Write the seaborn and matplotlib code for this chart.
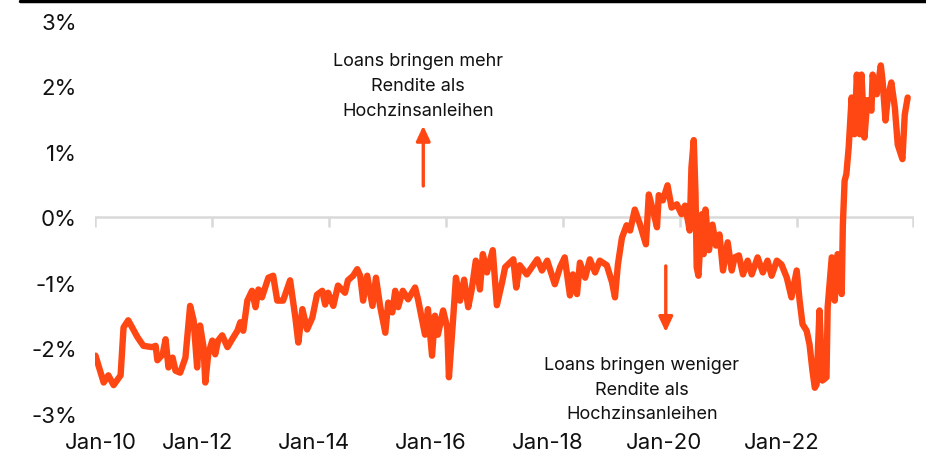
import numpy as np
import pandas as pd
import matplotlib
matplotlib.use("Agg")
import matplotlib.pyplot as plt
from matplotlib.lines import Line2D
import seaborn as sns

# Spread between leveraged-loan yield and high-yield bond yield, in percentage points
years = [
    2010.00, 2010.14, 2010.22, 2010.31, 2010.43, 2010.48, 2010.56, 2010.72, 2010.82, 2010.97,
    2011.03, 2011.06, 2011.15, 2011.20, 2011.25, 2011.32, 2011.37, 2011.45, 2011.54, 2011.62,
    2011.68, 2011.74, 2011.79, 2011.85, 2011.88, 2011.93, 2012.00, 2012.05, 2012.10, 2012.17,
    2012.26, 2012.34, 2012.43, 2012.48, 2012.53, 2012.60, 2012.68, 2012.74, 2012.79, 2012.85,
    2012.96, 2013.04, 2013.11, 2013.21, 2013.33, 2013.42, 2013.47, 2013.54, 2013.62, 2013.71,
    2013.79, 2013.88, 2013.93, 2013.98, 2014.07, 2014.15, 2014.27, 2014.32, 2014.41, 2014.48,
    2014.53, 2014.58, 2014.65, 2014.74, 2014.80, 2014.87, 2014.96, 2015.01, 2015.08, 2015.13,
    2015.18, 2015.26, 2015.35, 2015.47, 2015.52, 2015.59, 2015.64, 2015.69, 2015.76, 2015.81,
    2015.86, 2015.95, 2016.02, 2016.05, 2016.12, 2016.17, 2016.24, 2016.31, 2016.38, 2016.44,
    2016.51, 2016.58, 2016.63, 2016.70, 2016.80, 2016.87, 2016.96, 2017.01, 2017.15, 2017.20,
    2017.26, 2017.38, 2017.56, 2017.64, 2017.73, 2017.86, 2017.95, 2018.03, 2018.12, 2018.17,
    2018.24, 2018.29, 2018.38, 2018.46, 2018.55, 2018.63, 2018.75, 2018.84, 2018.89, 2018.94,
    2019.01, 2019.09, 2019.15, 2019.23, 2019.32, 2019.42, 2019.47, 2019.54, 2019.61, 2019.64,
    2019.71, 2019.79, 2019.86, 2019.95, 2020.03, 2020.09, 2020.14, 2020.17, 2020.20, 2020.24,
    2020.27, 2020.29, 2020.32, 2020.38, 2020.41, 2020.44, 2020.50, 2020.56, 2020.62, 2020.68,
    2020.74, 2020.82, 2020.89, 2020.94, 2021.01, 2021.08, 2021.16, 2021.23, 2021.33, 2021.42,
    2021.50, 2021.57, 2021.66, 2021.74, 2021.83, 2021.91, 2022.00, 2022.05, 2022.10, 2022.17,
    2022.22, 2022.27, 2022.31, 2022.34, 2022.39, 2022.44, 2022.51, 2022.53, 2022.60, 2022.65,
    2022.70, 2022.77, 2022.79, 2022.82, 2022.85, 2022.89, 2022.94, 2022.99, 2023.03, 2023.08,
    2023.11, 2023.16, 2023.21, 2023.28, 2023.30, 2023.37, 2023.44, 2023.47, 2023.52, 2023.56,
    2023.62, 2023.68, 2023.73, 2023.81, 2023.85, 2023.90,
]
spread = [
    -2.11, -2.52, -2.41, -2.56, -2.41, -1.68, -1.57, -1.83, -1.96, -1.98,
    -1.96, -2.18, -2.09, -1.86, -2.29, -2.14, -2.34, -2.37, -2.14, -1.35,
    -1.57, -2.29, -1.65, -1.98, -2.52, -2.09, -1.88, -2.09, -1.88, -1.80,
    -1.98, -1.86, -1.73, -1.60, -1.73, -1.27, -1.12, -1.37, -1.10, -1.22,
    -0.92, -0.89, -1.27, -1.27, -0.96, -1.53, -1.91, -1.40, -1.71, -1.53,
    -1.18, -1.12, -1.33, -1.15, -1.35, -1.04, -1.15, -0.96, -0.89, -0.79,
    -0.89, -1.27, -0.89, -1.35, -0.92, -1.35, -1.76, -1.30, -1.45, -1.12,
    -1.37, -1.12, -1.25, -1.07, -1.25, -1.57, -1.79, -1.40, -2.11, -1.50,
    -1.79, -1.42, -1.68, -2.44, -1.57, -0.92, -1.27, -0.95, -1.37, -1.10,
    -0.66, -1.10, -0.56, -0.84, -0.50, -1.34, -0.99, -0.76, -0.64, -1.07,
    -0.73, -0.87, -0.64, -0.81, -0.66, -1.02, -0.76, -0.61, -1.19, -0.87,
    -1.17, -0.69, -0.92, -0.64, -0.84, -0.66, -0.73, -0.99, -1.22, -0.72,
    -0.31, -0.12, -0.20, 0.12, -0.11, -0.41, 0.35, 0.11, -0.15, 0.34,
    0.26, 0.49, 0.15, 0.20, 0.05, 0.18, -0.05, -0.20, 0.76, 1.18,
    0.35, -0.76, -0.89, 0.05, -0.56, 0.12, -0.50, -0.11, -0.43, -0.26,
    -0.81, -0.38, -0.81, -0.61, -0.58, -0.87, -0.66, -0.87, -0.61, -0.84,
    -0.66, -0.89, -0.66, -0.72, -0.92, -1.22, -0.81, -1.27, -1.63, -1.73,
    -1.94, -2.34, -2.60, -2.55, -1.42, -2.49, -2.44, -1.37, -0.61, -1.27,
    -0.56, -1.17, -0.11, 0.56, 0.66, 1.07, 1.83, 1.27, 2.18, 1.27,
    2.18, 1.22, 1.79, 1.63, 2.18, 1.88, 2.32, 2.09, 1.48, 1.83,
    2.06, 1.68, 1.11, 0.89, 1.57, 1.83,
]

tick_years = [2010, 2012, 2014, 2016, 2018, 2020, 2022, 2024]
tick_labels = ["Jan-10", "Jan-12", "Jan-14", "Jan-16", "Jan-18", "Jan-20", "Jan-22"]
y_ticks = [-3, -2, -1, 0, 1, 2, 3]

note_up = "Loans bringen mehr\nRendite als\nHochzinsanleihen"
note_down = "Loans bringen weniger\nRendite als\nHochzinsanleihen"

ORANGE = "#FF4713"
GRID = "#D9D9D9"


def to_dates(yrs):
    yrs = np.asarray(yrs, dtype=float)
    base = pd.to_datetime([f"{int(y)}-01-01" for y in yrs])
    return base + pd.to_timedelta((yrs % 1) * 365.25, unit="D")


df = pd.DataFrame({"date": to_dates(years), "spread": spread})

sns.set_style("white")
plt.rcParams["font.family"] = ["Inter", "DejaVu Sans"]

fig = plt.figure(figsize=(9.26, 4.56), dpi=100)
ax = fig.add_axes([0.1026, 0.090, 0.8844, 0.862])

# Zero baseline with short tick marks hanging below it
ax.axhline(0, color=GRID, lw=1.8, zorder=1)
ax.vlines(to_dates(tick_years), -0.14, 0, color=GRID, lw=1.8, zorder=1)

sns.lineplot(data=df, x="date", y="spread", ax=ax, color=ORANGE,
             linewidth=4.6, estimator=None, solid_joinstyle="round",
             solid_capstyle="round", zorder=3)

ax.set_xlim(to_dates([2010])[0] - pd.Timedelta(days=3), to_dates([2024])[0] + pd.Timedelta(days=3))
ax.set_ylim(-3, 3)
ax.set_xlabel("")
ax.set_ylabel("")

for side in ("top", "right", "left", "bottom"):
    ax.spines[side].set_visible(False)

# Y axis labels
ax.set_yticks(y_ticks)
ax.set_yticklabels([f"{v}%" for v in y_ticks], fontsize=16, color="#111111")
ax.tick_params(axis="y", length=0, pad=13)

# Date labels along the bottom, slightly left of the tick marks
label_pos = to_dates(tick_years[:-1])
label_pos = [d - pd.Timedelta(days=95) for d in label_pos]
label_pos[0] = to_dates([2010.09])[0]
ax.set_xticks(label_pos)
ax.set_xticklabels(tick_labels, fontsize=16, color="#111111")
ax.tick_params(axis="x", length=0, pad=13)

# Annotations with arrows
arrow_style = dict(arrowstyle="-|>,head_length=0.9,head_width=0.42",
                   color=ORANGE, lw=2.4, shrinkA=0, shrinkB=0)
ax.annotate("", xy=(to_dates([2015.61])[0], 1.40), xytext=(to_dates([2015.61])[0], 0.48),
            arrowprops=arrow_style)
ax.text(to_dates([2015.52])[0], 2.01, note_up, ha="center", va="center",
        fontsize=13, color="#111111", linespacing=1.6)

ax.annotate("", xy=(to_dates([2019.76])[0], -1.75), xytext=(to_dates([2019.76])[0], -0.74),
            arrowprops=arrow_style)
ax.text(to_dates([2019.35])[0], -2.62, note_down, ha="center", va="center",
        fontsize=13, color="#111111", linespacing=1.6)

# Rule across the top of the figure
fig.add_artist(Line2D([20 / 926, 1.0], [0.9965, 0.9965], color="black", lw=2.5,
                      transform=fig.transFigure))

fig.savefig("out.png", dpi=100)
